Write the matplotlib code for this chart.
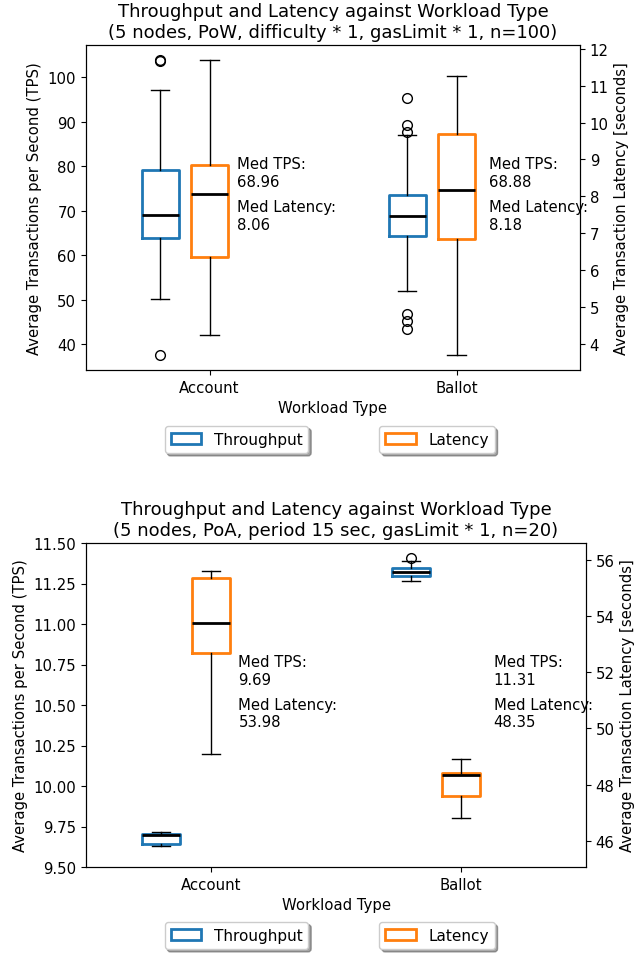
import matplotlib
matplotlib.use("Agg")
import matplotlib.pyplot as plt
from matplotlib.patches import Patch

categories = ["Account", "Ballot"]

# ---- Top chart (PoW) ----
top_title = "Throughput and Latency against Workload Type\n(5 nodes, PoW, difficulty * 1, gasLimit * 1, n=100)"
top_tps_whislo = [50.2, 51.9]
top_tps_q1 = [63.9, 64.3]
top_tps_med = [68.96, 68.88]
top_tps_q3 = [79.1, 73.6]
top_tps_whishi = [97.2, 87.0]
top_tps_fliers = [[103.6, 103.9, 37.5], [95.4, 89.2, 87.6, 46.8, 45.1, 43.4]]
top_lat_whislo = [4.25, 3.70]
top_lat_q1 = [6.35, 6.85]
top_lat_med = [8.06, 8.18]
top_lat_q3 = [8.84, 9.69]
top_lat_whishi = [11.7, 11.25]
top_lat_fliers = [[], []]
top_tps_text = ["68.96", "68.88"]
top_lat_text = ["8.06", "8.18"]

# ---- Bottom chart (PoA) ----
bot_title = "Throughput and Latency against Workload Type\n(5 nodes, PoA, period 15 sec, gasLimit * 1, n=20)"
bot_tps_whislo = [9.628, 11.267]
bot_tps_q1 = [9.640, 11.294]
bot_tps_med = [9.698, 11.322]
bot_tps_q3 = [9.705, 11.346]
bot_tps_whishi = [9.715, 11.39]
bot_tps_fliers = [[], [11.41]]
bot_lat_whislo = [49.08, 46.80]
bot_lat_q1 = [52.69, 47.58]
bot_lat_med = [53.76, 48.35]
bot_lat_q3 = [55.35, 48.41]
bot_lat_whishi = [55.62, 48.91]
bot_lat_fliers = [[], []]
bot_tps_text = ["9.69", "11.31"]
bot_lat_text = ["53.98", "48.35"]

C_TPS = "#1f77b4"
C_LAT = "#ff7f0e"
FS = 10.7

W, H = 636, 954
fig = plt.figure(figsize=(W / 100, H / 100), dpi=100)


def stats(wl, q1, med, q3, wh, fl):
    return [dict(whislo=a, q1=b, med=c, q3=d, whishi=e, fliers=f)
            for a, b, c, d, e, f in zip(wl, q1, med, q3, wh, fl)]


def draw(rect, title, tps, lat, tps_txt, lat_txt, ylim_l=None, ylim_r=None, legend_y=0.5):
    l, t, r, b = rect
    ax = fig.add_axes([l / W, 1 - b / H, (r - l) / W, (b - t) / H])
    ax2 = ax.twinx()
    common = dict(widths=0.15, whiskerprops=dict(color="black", lw=1),
                  capprops=dict(color="black", lw=1),
                  medianprops=dict(color="black", lw=2),
                  flierprops=dict(marker="o", markerfacecolor="none",
                                  markeredgecolor="black", markersize=7))
    ax.bxp(tps, positions=[0.8, 1.8], boxprops=dict(color=C_TPS, lw=2), **common)
    ax2.bxp(lat, positions=[1, 2], boxprops=dict(color=C_LAT, lw=2), **common)
    ax.set_xlim(0.5, 2.5)
    ax.set_xticks([1, 2])
    ax.set_xticklabels(categories)
    ax2.set_xlim(0.5, 2.5)
    ax.tick_params(labelsize=FS)
    ax2.tick_params(labelsize=FS)
    if ylim_l:
        ax.set_ylim(*ylim_l)
    if ylim_r:
        ax2.set_ylim(*ylim_r)
    ax.set_xlabel("Workload Type", fontsize=FS)
    ax.set_ylabel("Average Transactions per Second (TPS)", fontsize=FS)
    ax2.set_ylabel("Average Transaction Latency [seconds]", fontsize=FS)
    ax.set_title(title, fontsize=13)
    tx = [1.11, 2.13]
    for i in range(2):
        ax2.text(tx[i], 0.657, "Med TPS:\n" + tps_txt[i], transform=ax2.get_xaxis_transform(),
                 va="top", ha="left", fontsize=FS)
        ax2.text(tx[i], 0.525, "Med Latency:\n" + lat_txt[i], transform=ax2.get_xaxis_transform(),
                 va="top", ha="left", fontsize=FS)
    h1 = Patch(facecolor="white", edgecolor=C_TPS, lw=2, label="Throughput")
    h2 = Patch(facecolor="white", edgecolor=C_LAT, lw=2, label="Latency")
    fig.legend(handles=[h1], loc="center", bbox_to_anchor=(236.5 / W, legend_y),
               fontsize=11, shadow=True)
    fig.legend(handles=[h2], loc="center", bbox_to_anchor=(437 / W, legend_y),
               fontsize=11, shadow=True)
    return ax, ax2


draw((86, 46, 580, 371), top_title,
     stats(top_tps_whislo, top_tps_q1, top_tps_med, top_tps_q3, top_tps_whishi, top_tps_fliers),
     stats(top_lat_whislo, top_lat_q1, top_lat_med, top_lat_q3, top_lat_whishi, top_lat_fliers),
     top_tps_text, top_lat_text, legend_y=1 - 440.5 / H)

draw((86, 544, 586, 868), bot_title,
     stats(bot_tps_whislo, bot_tps_q1, bot_tps_med, bot_tps_q3, bot_tps_whishi, bot_tps_fliers),
     stats(bot_lat_whislo, bot_lat_q1, bot_lat_med, bot_lat_q3, bot_lat_whishi, bot_lat_fliers),
     bot_tps_text, bot_lat_text, ylim_l=(9.5, 11.5), ylim_r=(45.07, 56.6), legend_y=1 - 936.5 / H)

fig.savefig("out.png", dpi=100)
